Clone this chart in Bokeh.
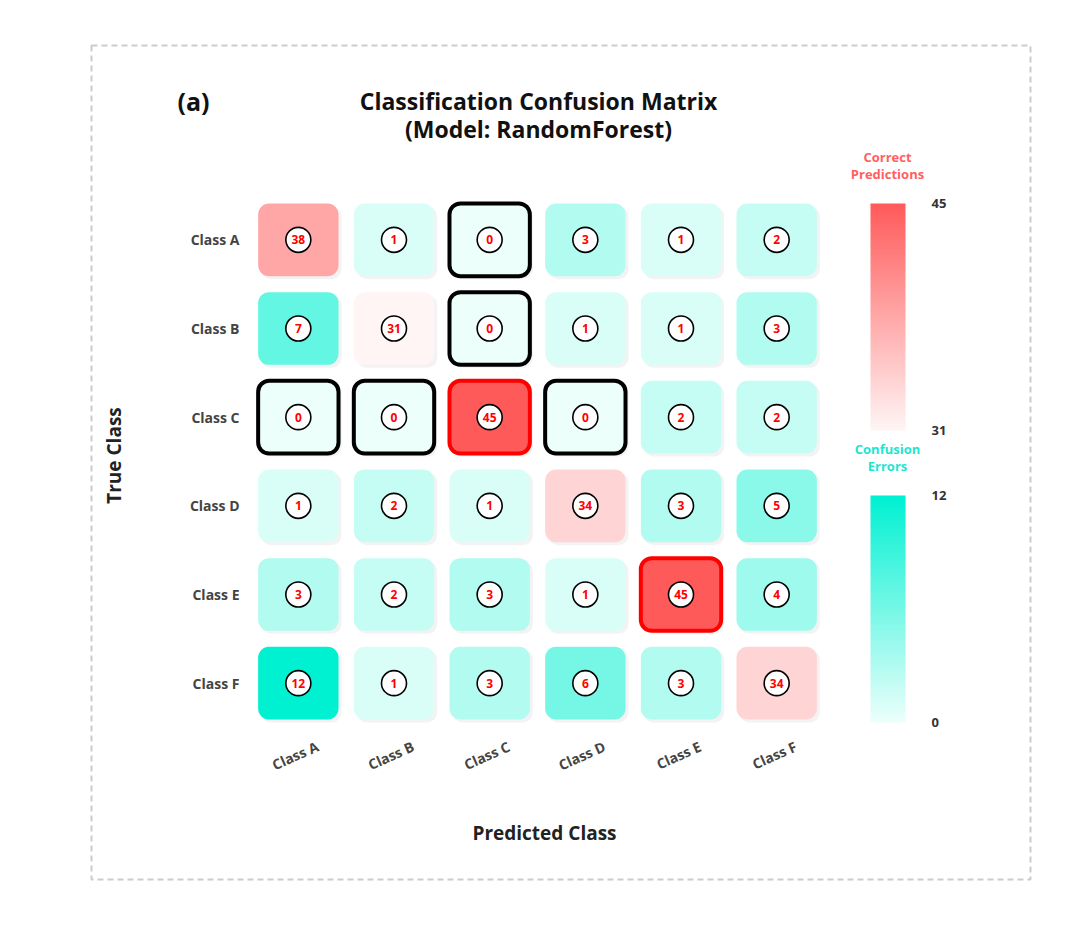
import math
import numpy as np
from bokeh.plotting import figure
from bokeh.models import (ColumnDataSource, Range1d, FixedTicker, LinearColorMapper,
                          ColorBar, Label)
from bokeh.transform import transform
from bokeh.embed import file_html
from bokeh.resources import INLINE
from bokeh.core.properties import value

# ---------------- data ----------------
classes = ["Class A", "Class B", "Class C", "Class D", "Class E", "Class F"]
matrix = [
    [38, 1, 0, 3, 1, 2],
    [7, 31, 0, 1, 1, 3],
    [0, 0, 45, 0, 2, 2],
    [1, 2, 1, 34, 3, 5],
    [3, 2, 3, 1, 45, 4],
    [12, 1, 3, 6, 3, 34],
]
correct_ticks = [31, 45]
error_ticks = [0, 12]

FONT = "Open Sans"

def palette(c0, c1, n=256):
    out = []
    for k in range(n):
        t = k / (n - 1)
        r, g, b = (round(c0[i] + (c1[i] - c0[i]) * t) for i in range(3))
        out.append("#%02x%02x%02x" % (r, g, b))
    return out

red_pal = palette((255, 245, 245), (255, 90, 90))
teal_pal = palette((236, 255, 251), (0, 240, 210))

n = len(classes)
hw, hh = 0.42, 0.41

# layout (canvas px)
W, H = 1064, 909
BL, BT, BR, BB = 91, 45, 1030, 879          # dashed panel = plot frame
ML, MT, MW, MH = 250, 195, 574, 532          # matrix area inside it
ux, uy = MW / n, MH / n

def dx(px):
    return -0.5 + (px - ML) / ux

def dy(py):
    return (n - 0.5) - (py - MT) / uy

sx_off = 3 / ux
sy_off = 3 / uy

def build(diag):
    d = dict(x=[], y=[], v=[], lab=[], l=[], r=[], t=[], b=[], lc=[], lw=[],
             sl=[], sr=[], st=[], sb=[])
    for i in range(n):
        for j in range(n):
            if (i == j) != diag:
                continue
            val = matrix[i][j]
            x, y = j, n - 1 - i
            d["x"].append(x); d["y"].append(y); d["v"].append(val); d["lab"].append(str(val))
            d["l"].append(x - hw); d["r"].append(x + hw)
            d["t"].append(y + hh); d["b"].append(y - hh)
            d["sl"].append(x - hw + sx_off); d["sr"].append(x + hw + sx_off)
            d["st"].append(y + hh - sy_off); d["sb"].append(y - hh - sy_off)
            if val == 0:
                d["lc"].append("black"); d["lw"].append(4)
            elif val == max(correct_ticks):
                d["lc"].append("red"); d["lw"].append(4)
            else:
                d["lc"].append(None); d["lw"].append(0)
    return ColumnDataSource(d)

src_diag = build(True)
src_off = build(False)

red_mapper = LinearColorMapper(palette=red_pal, low=min(correct_ticks), high=max(correct_ticks))
teal_mapper = LinearColorMapper(palette=teal_pal, low=min(error_ticks), high=max(error_ticks))

p = figure(width=W, height=H,
           x_range=Range1d(dx(BL), dx(BR)), y_range=Range1d(dy(BB), dy(BT)),
           output_backend="svg", toolbar_location=None,
           min_border_left=BL, min_border_right=W - BR,
           min_border_top=BT, min_border_bottom=H - BB)
p.outline_line_color = "#cccccc"
p.outline_line_width = 2
p.outline_line_dash = "6 4"
p.xgrid.visible = False
p.ygrid.visible = False
p.background_fill_color = "white"

# shadows
for src in (src_off, src_diag):
    p.quad(left="sl", right="sr", top="st", bottom="sb", source=src, fill_color="#e8e8e8",
           fill_alpha=0.5, line_color=None, border_radius=10)

p.quad(left="l", right="r", top="t", bottom="b", source=src_off,
       fill_color=transform("v", teal_mapper), line_color="lc", line_width="lw", border_radius=11)
p.quad(left="l", right="r", top="t", bottom="b", source=src_diag,
       fill_color=transform("v", red_mapper), line_color="lc", line_width="lw", border_radius=11)

for src in (src_off, src_diag):
    p.scatter("x", "y", source=src, size=25, fill_color="white", line_color="black", line_width=1.6)
    p.text("x", "y", text="lab", source=src, text_align="center", text_baseline="middle",
           text_font=value(FONT), text_font_size="12px", text_font_style="bold", text_color="red")

# axes drawn at the matrix edges inside the panel
xshift = 0.2
p.xaxis.fixed_location = -0.5
p.yaxis.fixed_location = -0.5
p.xaxis.ticker = FixedTicker(ticks=[j + xshift for j in range(n)])
p.xaxis.major_label_overrides = {j + xshift: classes[j] for j in range(n)}
p.xaxis.major_label_orientation = 0.42
p.yaxis.ticker = FixedTicker(ticks=list(range(n)))
p.yaxis.major_label_overrides = {n - 1 - i: classes[i] for i in range(n)}
for ax in (p.xaxis, p.yaxis):
    ax.axis_line_color = None
    ax.major_tick_line_color = None
    ax.minor_tick_line_color = None
    ax.major_label_text_font = FONT
    ax.major_label_text_font_size = "14px"
    ax.major_label_text_font_style = "bold"
    ax.major_label_text_color = "#444444"
p.xaxis.major_label_standoff = 12
p.yaxis.major_label_standoff = 5

# titles and axis titles
def lab(text, px, py, size, color="#111111", angle=0.0):
    p.add_layout(Label(x=dx(px), y=dy(py), text=text, angle=angle,
                       text_align="center", text_baseline="middle",
                       text_font=FONT, text_font_size=size, text_font_style="bold",
                       text_color=color))

lab("(a)", 193, 100, "25px")
lab("Classification Confusion Matrix", 538, 100, "23px")
lab("(Model: RandomForest)", 538, 128, "23px")
lab("Predicted Class", 544, 832, "19px", "#222222")
lab("True Class", 113, 455, "19px", "#222222", math.pi / 2)
lab("Correct", 887, 156, "13px", "#ff5e62")
lab("Predictions", 887, 173, "13px", "#ff5e62")
lab("Confusion", 887, 448, "13px", "#1fe5cf")
lab("Errors", 887, 465, "13px", "#1fe5cf")

# colorbars
def cbar(mapper, ticks, top_py, bot_py):
    cb = ColorBar(color_mapper=mapper, ticker=FixedTicker(ticks=ticks),
                  location=(870 - BL, BB - bot_py),
                  width=35, height=bot_py - top_py, padding=0,
                  major_tick_line_color=None, minor_tick_line_color=None, bar_line_color=None,
                  major_label_text_font=FONT, major_label_text_font_size="13px",
                  major_label_text_font_style="bold", major_label_text_color="#333333",
                  label_standoff=26, background_fill_alpha=0, border_line_color=None)
    p.add_layout(cb, "center")

cbar(red_mapper, correct_ticks, 203, 430)
cbar(teal_mapper, error_ticks, 495, 722)

open("out.html", "w").write(file_html(p, INLINE))
